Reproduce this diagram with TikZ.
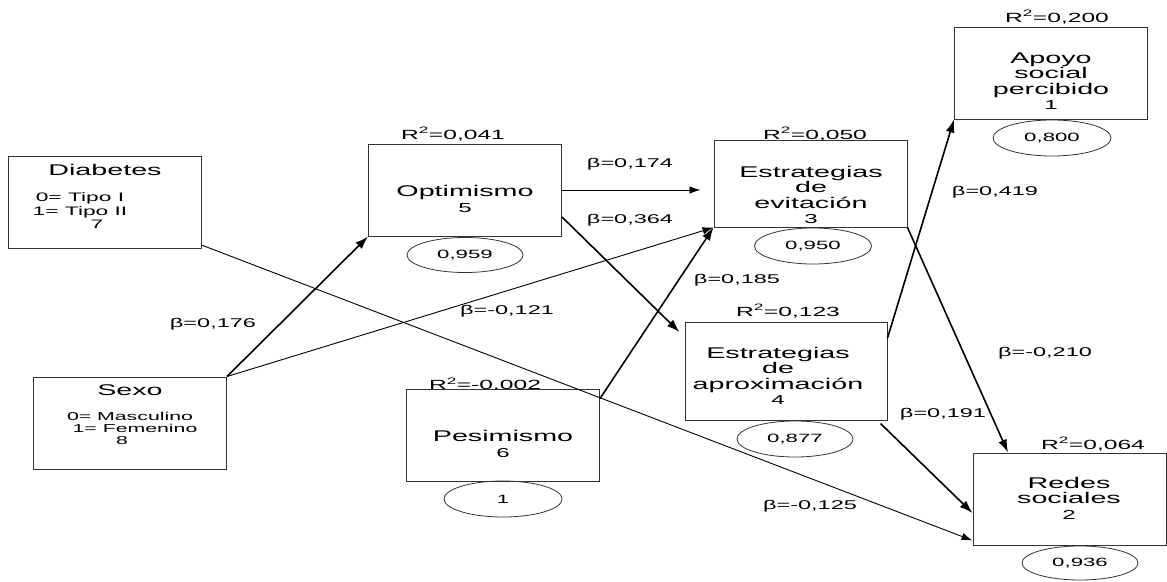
\documentclass[tikz,border=0pt]{standalone}
\usepackage{fontspec}
\setmainfont[FakeStretch=1.85]{Liberation Sans}
\usepackage{tikz}
\usetikzlibrary{shapes.geometric,arrows.meta}

\newcommand{\boxfont}{\fontsize{15.5}{15.5}\selectfont}
\newcommand{\numfont}{\fontsize{13}{13}\selectfont}
\newcommand{\subfont}{\fontsize{12.3}{13.5}\selectfont}
\newcommand{\coefont}{\fontsize{12.7}{14}\selectfont}
\newcommand{\errfont}{\fontsize{12}{12}\selectfont}

\begin{document}
\begin{tikzpicture}[x=1pt, y=-1pt,
    varbox/.style={draw=black!80, line width=1pt, minimum width=193, minimum height=92, inner sep=0},
    errell/.style={draw=black!80, line width=0.8pt, ellipse, minimum width=117, minimum height=36, inner sep=0, font=\errfont},
    boxtxt/.style={align=center, font=\boxfont, inner sep=0},
    subtxt/.style={align=center, font=\subfont, inner sep=0},
    coef/.style={font=\coefont, inner sep=0},
    thinarr/.style={line width=0.9pt, -{Latex[length=11pt,width=7.5pt]}},
    thickarr/.style={line width=1.6pt, -{Latex[length=13pt,width=9pt]}}]

  \useasboundingbox (0,0) rectangle (1167,581);

  % boxes
  \node [varbox] (diab)  at (104.5, 202.5) {};
  \node [varbox] (sexo)  at (130,   423)   {};
  \node [varbox] (opt)   at (465,   190)   {};
  \node [varbox, minimum height=87] (evit)  at (810.5, 183.5) {};
  \node [varbox, minimum width=202, minimum height=98] (aprox) at (786, 371) {};
  \node [varbox] (pes)   at (503,   435)   {};
  \node [varbox] (apoyo) at (1051,  73)    {};
  \node [varbox] (redes) at (1069.5, 499)  {};

  % box texts
  \node [boxtxt] (diabt)  at (105,  170) {Diabetes};
  \node [subtxt] (diabs)  at (80,   211) {0= Tipo I\\1= Tipo II\\\hspace*{34pt}7};
  \node [boxtxt] (sexot)  at (130,  390) {Sexo};
  \node [subtxt, font=\fontsize{11.5}{12}\selectfont] (sexos) at (130, 428)
        {0= Masculino\\\hspace*{10pt}1= Femenino\\\hspace*{-16pt}8};
  \node [boxtxt] (optt)   at (465,  199) {Optimismo\\{\numfont 5}};
  \node [boxtxt] (evitt)  at (811,  195) {Estrategias\\de\\evitación\\{\numfont 3}};
  \node [boxtxt] (aproxt) at (778,  376) {Estrategias\\de\\aproximación\\{\numfont 4}};
  \node [boxtxt] (pest)   at (503,  444) {Pesimismo\\{\numfont 6}};
  \node [boxtxt] (apoyot) at (1051, 81)  {Apoyo\\social\\percibido\\{\numfont 1}};
  \node [boxtxt] (redest) at (1069, 498) {Redes\\sociales\\{\numfont 2}};

  % error terms
  \node [errell, minimum width=116, minimum height=35] (opte) at (465, 255) {0,959};
  \node [errell] (evite)  at (813,  246) {0,950};
  \node [errell, minimum width=116] (aproxe) at (795, 439) {0,877};
  \node [errell, minimum width=118] (pese)   at (503, 499) {1};
  \node [errell, minimum width=118] (apoyoe) at (1052, 138) {0,800};
  \node [errell, minimum width=116, minimum height=34] (redese) at (1080, 563) {0,936};

  % explained variance
  \node [coef, font=\fontsize{13.3}{14}\selectfont] (r2opt)   at (453,  134) {R\textsuperscript{2}=0,041};
  \node [coef, font=\fontsize{13.3}{14}\selectfont] (r2evit)  at (815,  134) {R\textsuperscript{2}=0,050};
  \node [coef, font=\fontsize{13.3}{14}\selectfont] (r2aprox) at (788,  311) {R\textsuperscript{2}=0,123};
  \node [coef, font=\fontsize{13.3}{14}\selectfont] (r2pes)   at (485,  384) {R\textsuperscript{2}=-0.002};
  \node [coef, font=\fontsize{13.3}{14}\selectfont] (r2apoyo) at (1057, 17)  {R\textsuperscript{2}=0,200};
  \node [coef, font=\fontsize{13.3}{14}\selectfont] (r2redes) at (1093, 444) {R\textsuperscript{2}=0,064};

  % path coefficients
  \node [coef] (b1)  at (630,  164) {β=0,174};
  \node [coef] (b2)  at (630,  220) {β=0,364};
  \node [coef] (b3)  at (737,  280) {β=0,185};
  \node [coef] (b4)  at (995,  192) {β=0,419};
  \node [coef] (b5)  at (213,  324) {β=0,176};
  \node [coef] (b6)  at (507,  311) {β=-0,121};
  \node [coef] (b7)  at (1045, 353) {β=-0,210};
  \node [coef] (b8)  at (943,  414) {β=0,191};
  \node [coef] (b9)  at (810,  506) {β=-0,125};

  % arrows
  \draw [thickarr] (sexo.north east) -- (opt.south west);
  \draw [thinarr]  (sexo.north east) -- (evit.south west);
  \draw [thickarr] ([yshift=-10pt]pes.north east) -- (evit.south west);
  \draw [thinarr, shorten >=13pt] (opt.east) -- (opt.east -| evit.west);
  \draw [thickarr, shorten >=7pt] ([yshift=-27pt]opt.east) -- ([yshift=34pt]aprox.west);
  \draw [thickarr] (evit.south east) -- ([xshift=-61.5pt]redes.north);
  \draw [thickarr] ([yshift=33pt]aprox.east) -- (apoyo.south west);
  \draw [thickarr] ([xshift=-7pt,yshift=-3pt]aprox.south east) -- ([yshift=-14pt]redes.west);
  \draw [thinarr]  ([yshift=4pt]diab.south east) -- ([yshift=5pt]redes.south west);

\end{tikzpicture}
\end{document}
